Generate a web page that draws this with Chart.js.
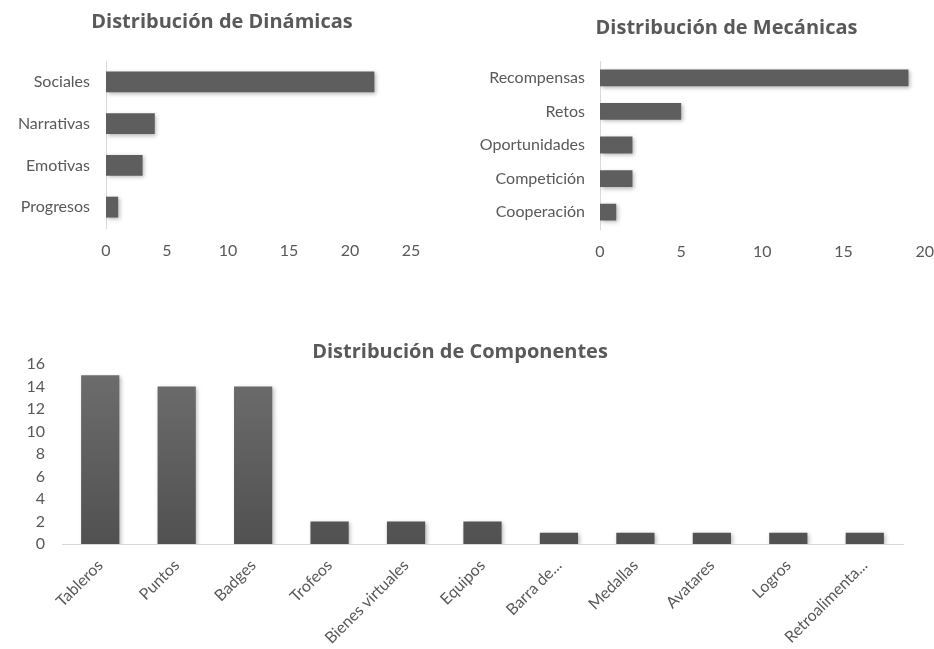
<!DOCTYPE html>
<html>
<head>
<meta charset="utf-8">
<script src="https://cdn.jsdelivr.net/npm/chart.js@4.4.1/dist/chart.umd.min.js"></script>
<style>
  html, body { margin: 0; padding: 0; background: #fff; }
  body { width: 934px; height: 649px; position: relative; overflow: hidden; }
  .box { position: absolute; }
</style>
</head>
<body>
<div class="box" style="left:0;top:0;width:440px;height:270px"><canvas id="dinChart"></canvas></div>
<div class="box" style="left:440px;top:0;width:507px;height:270px"><canvas id="mecChart"></canvas></div>
<div class="box" style="left:0;top:330px;width:934px;height:319px"><canvas id="compChart"></canvas></div>
<script>
// Distribución de Dinámicas
const dinamicasLabels = ['Sociales', 'Narrativas', 'Emotivas', 'Progresos'];
const dinamicasValues = [22, 4, 3, 1];
const dinamicasTicks = [0, 5, 10, 15, 20, 25];

// Distribución de Mecánicas
const mecanicasLabels = ['Recompensas', 'Retos', 'Oportunidades', 'Competición', 'Cooperación'];
const mecanicasValues = [19, 5, 2, 2, 1];
const mecanicasTicks = [0, 5, 10, 15, 20];

// Distribución de Componentes
const componentesLabels = ['Tableros', 'Puntos', 'Badges', 'Trofeos', 'Bienes virtuales', 'Equipos',
  'Barra de...', 'Medallas', 'Avatares', 'Logros', 'Retroalimenta...'];
const componentesValues = [15, 14, 14, 2, 2, 2, 1, 1, 1, 1, 1];
const componentesTicks = [0, 2, 4, 6, 8, 10, 12, 14, 16];

const GRAY = '#595959';
const FONT = 'Lato, "Open Sans", sans-serif';
const TITLE_FONT = '"Open Sans", Lato, sans-serif';

// soft drop shadow under the bars, like the office chart
const barShadow = {
  id: 'barShadow',
  beforeDatasetsDraw(chart) {
    const c = chart.ctx;
    c.save();
    c.shadowColor = 'rgba(0,0,0,0.28)';
    c.shadowBlur = 4;
    c.shadowOffsetX = 1.5;
    c.shadowOffsetY = 1.5;
  },
  afterDatasetsDraw(chart) { chart.ctx.restore(); },
};

// the office titles sit centred on the whole chart box, not on the plot;
// nudge the title block sideways after layout
const titleShift = {
  id: 'titleShift',
  afterLayout(chart, args, opts) {
    const t = chart.titleBlock;
    if (t && opts.dx) { t.left += opts.dx; t.right += opts.dx; }
  },
};

function columnGradient(ctx) {
  const area = ctx.chart.chartArea;
  if (!area) return '#5e5e5e';
  const g = ctx.chart.ctx.createLinearGradient(0, area.top, 0, area.bottom);
  g.addColorStop(0, '#6e6e6e');
  g.addColorStop(1, '#515151');
  return g;
}

function titleOpts(text, top, bottom) {
  return {
    display: true, text, color: GRAY,
    font: { family: TITLE_FONT, size: 20, weight: 'bold', lineHeight: 1.2 },
    padding: { top, bottom },
  };
}

function horizontalChart(id, labels, values, ticks, o) {
  new Chart(document.getElementById(id), {
    type: 'bar',
    data: {
      labels,
      datasets: [{ data: values, backgroundColor: '#5e5e5e', categoryPercentage: 1, barPercentage: 0.5 }],
    },
    plugins: [barShadow, titleShift],
    options: {
      indexAxis: 'y',
      responsive: true, maintainAspectRatio: false, animation: false,
      layout: { padding: { left: 0, right: o.right, top: 0, bottom: 0 } },
      plugins: {
        legend: { display: false },
        tooltip: { enabled: false },
        title: titleOpts(o.title, o.titleTop, o.titleBottom),
        titleShift: { dx: o.titleDx },
      },
      scales: {
        x: {
          min: ticks[0], max: ticks[ticks.length - 1],
          afterBuildTicks: (s) => { s.ticks = ticks.map(v => ({ value: v })); },
          afterFit: (s) => { s.height = o.xHeight; },
          grid: { display: false, drawTicks: false },
          border: { display: false },
          ticks: { color: GRAY, padding: 13, font: { family: FONT, size: 16 } },
        },
        y: {
          afterFit: (s) => { s.width = o.yWidth; },
          grid: { display: false, drawTicks: false },
          border: { display: true, color: '#d9d9d9', width: 1 },
          ticks: { color: GRAY, padding: o.yPad, font: { family: FONT, size: 16 } },
        },
      },
    },
  });
}

horizontalChart('dinChart', dinamicasLabels, dinamicasValues, dinamicasTicks, {
  title: 'Distribución de Dinámicas', right: 29, yWidth: 106, xHeight: 42,
  titleTop: 10, titleBottom: 27, yPad: 16, titleDx: 16.5,
});

horizontalChart('mecChart', mecanicasLabels, mecanicasValues, mecanicasTicks, {
  title: 'Distribución de Mecánicas', right: 0, yWidth: 160, xHeight: 41,
  titleTop: 16, titleBottom: 21, yPad: 15, titleDx: 33,
});

new Chart(document.getElementById('compChart'), {
  type: 'bar',
  data: {
    labels: componentesLabels,
    datasets: [{ data: componentesValues, backgroundColor: columnGradient, categoryPercentage: 1, barPercentage: 0.5 }],
  },
  plugins: [barShadow, titleShift],
  options: {
    responsive: true, maintainAspectRatio: false, animation: false,
    layout: { padding: { left: 0, right: 31, top: 0, bottom: 0 } },
    plugins: {
      legend: { display: false },
      tooltip: { enabled: false },
      title: titleOpts('Distribución de Componentes', 10, 0),
      titleShift: { dx: 8.5 },
    },
    scales: {
      x: {
        afterFit: (s) => { s.height = 105; },
        grid: { display: false, drawTicks: false },
        border: { display: true, color: '#d9d9d9', width: 1 },
        ticks: { color: GRAY, padding: 12, autoSkip: false, minRotation: 45, maxRotation: 45, font: { family: FONT, size: 16 } },
      },
      y: {
        min: componentesTicks[0], max: componentesTicks[componentesTicks.length - 1],
        afterBuildTicks: (s) => { s.ticks = componentesTicks.map(v => ({ value: v })); },
        afterFit: (s) => { s.width = 62; },
        grid: { display: false, drawTicks: false },
        border: { display: false },
        ticks: { color: GRAY, padding: 17, font: { family: FONT, size: 16 } },
      },
    },
  },
});
</script>
</body>
</html>
